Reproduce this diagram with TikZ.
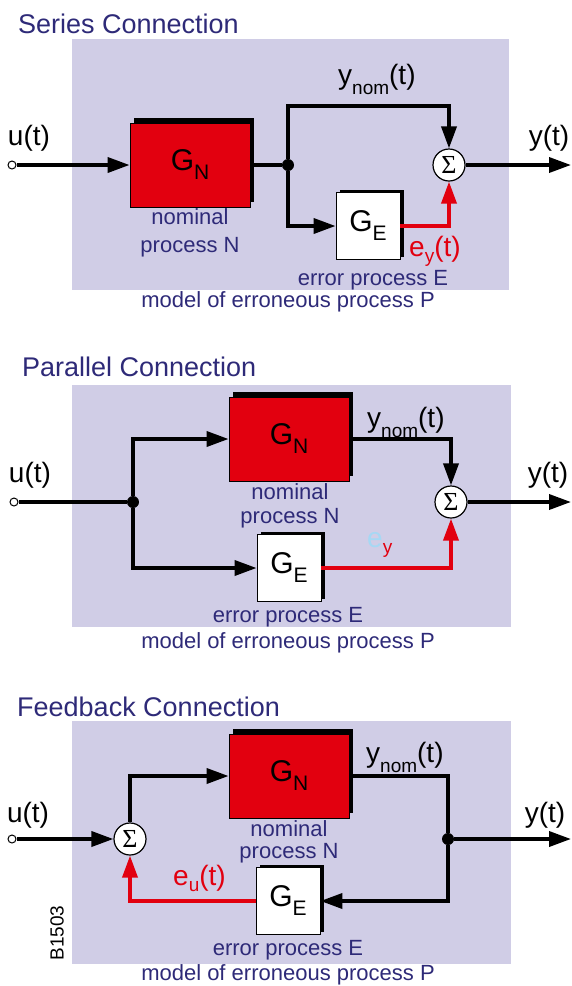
\documentclass[tikz,border=0pt]{standalone}
\usepackage{fontspec}
\setmainfont{Liberation Sans}
\newfontfamily\sigmafont{Liberation Serif}
\usetikzlibrary{arrows.meta,shadows}
\definecolor{bgcol}{RGB}{208,205,230}
\definecolor{txtblue}{RGB}{46,42,120}
\definecolor{errred}{RGB}{226,0,15}
\definecolor{eblue}{RGB}{166,216,244}
\newcommand{\gsub}[1]{G\raisebox{-0.3em}{\fontsize{21}{21}\selectfont #1}}
\newcommand{\ssub}[3][0.38em]{#2\raisebox{-#1}{\fontsize{19}{19}\selectfont #3}}

\begin{document}
\begin{tikzpicture}[x=1pt,y=-1pt,
    gnode/.style={draw, fill=errred, line width=0.8pt, minimum width=120pt, minimum height=84pt, inner sep=0pt,
      font=\fontsize{30}{30}\selectfont, drop shadow={fill=black, opacity=1, shadow xshift=4pt, shadow yshift=5pt}},
    enode/.style={draw, fill=white, line width=0.8pt, minimum width=64pt, minimum height=67pt, inner sep=0pt,
      font=\fontsize{30}{30}\selectfont, drop shadow={fill=black, opacity=1, shadow xshift=3.5pt, shadow yshift=3pt}},
    snode/.style={draw, circle, fill=white, line width=1.2pt, minimum size=32pt, inner sep=0pt, font=\sigmafont\fontsize{26}{26}\selectfont},
    jnode/.style={circle, fill=black, minimum size=12pt, inner sep=0pt},
    pnode/.style={circle, draw, fill=white, line width=1pt, minimum size=8pt, inner sep=0pt},
    conn/.style={line width=3.6pt},
    sig/.style={conn, -{Triangle[length=22pt,width=15pt]}},
    errsig/.style={sig, color=errred},
    ttl/.style={font=\fontsize{27}{27}\selectfont, text=txtblue, anchor=base west, inner sep=0pt},
    sigl/.style={font=\fontsize{28}{28}\selectfont, anchor=base, inner sep=0pt},
    lbl/.style={font=\fontsize{22}{24}\selectfont, text=txtblue, align=center, anchor=base, inner sep=0pt}
]
\useasboundingbox (0,0) rectangle (571,986);

% series connection
\fill[bgcol] (72,39) rectangle (509,290);
\node[ttl] (t1) at (18,33) {Series Connection};
\node[pnode] (u1) at (12,165) {};
\node[gnode] (gn1) at (190,165) {\gsub{N}};
\node[jnode] (j1) at (288,165) {};
\node[enode] (ge1) at (368,226) {\gsub{E}};
\node[snode] (s1) at (449,165) {Σ};
\coordinate (top1) at (449,106);
\coordinate (y1) at (571,165);
\draw[sig] (u1) -- (gn1);
\draw[conn] (gn1) -- (j1);
\draw[sig] (j1) |- (top1) -- (s1);
\draw[sig] (j1) |- (ge1);
\draw[errsig] (ge1) -| (s1);
\draw[sig] (s1) -- (y1);
\node[sigl] (ul1) at (29,145) {u(t)};
\node[sigl] (yl1) at (549,145) {y(t)};
\node[sigl, anchor=base west] (yn1) at (338,84) {\ssub{y}{nom}(t)};
\node[sigl, anchor=base west, text=errred] (ey1) at (409,256) {\ssub[0.22em]{e}{y}(t)};
\node[lbl] (nl1) at (190,252) {nominal\\[4pt]process N};
\node[lbl] (el1) at (373,285) {error process E};
\node[lbl] (ml1) at (288,307) {model of erroneous process P};

% parallel connection
\fill[bgcol] (72,385) rectangle (511,627);
\node[ttl] (t2) at (22,376) {Parallel Connection};
\node[pnode] (u2) at (14,502) {};
\node[jnode] (j2) at (133,502) {};
\node[gnode] (gn2) at (289,439) {\gsub{N}};
\node[enode] (ge2) at (289,568) {\gsub{E}};
\node[snode] (s2) at (451,502) {Σ};
\coordinate (y2) at (571,502);
\draw[conn] (u2) -- (j2);
\draw[sig] (j2) |- (gn2);
\draw[sig] (j2) |- (ge2);
\draw[sig] (gn2) -| (s2);
\draw[errsig] (ge2) -| (s2);
\draw[sig] (s2) -- (y2);
\node[sigl] (ul2) at (30,482) {u(t)};
\node[sigl] (yl2) at (548,482) {y(t)};
\node[sigl, anchor=base west] (yn2) at (367,427) {\ssub{y}{nom}(t)};
\node[sigl, anchor=base west] (ey2) at (367,547) {\ssub[0.22em]{\textcolor{eblue}{e}}{\textcolor{errred}{y}}};
\node[lbl] (nl2) at (290,523) {nominal\\process N};
\node[lbl] (el2) at (288,622) {error process E};
\node[lbl] (ml2) at (288,648) {model of erroneous process P};

% feedback connection
\fill[bgcol] (72,721) rectangle (511,964);
\node[ttl] (t3) at (17,716) {Feedback Connection};
\node[pnode] (u3) at (12,839) {};
\node[snode] (s3) at (130,839) {Σ};
\node[gnode] (gn3) at (289,776) {\gsub{N}};
\node[jnode] (j3) at (448,839) {};
\node[enode] (ge3) at (288,901) {\gsub{E}};
\coordinate (y3) at (571,839);
\draw[sig] (u3) -- (s3);
\draw[sig] (s3) |- (gn3);
\draw[conn] (gn3) -| (j3);
\draw[sig] (j3) -- (y3);
\draw[sig] (j3) |- (ge3);
\draw[errsig] (ge3) -| (s3);
\node[sigl] (ul3) at (28,822) {u(t)};
\node[sigl] (yl3) at (545,822) {y(t)};
\node[sigl, anchor=base west] (yn3) at (366,762) {\ssub{y}{nom}(t)};
\node[sigl, anchor=base west, text=errred] (eu3) at (173,885) {\ssub[0.22em]{e}{u}(t)};
\node[lbl] (nl3) at (289,858) {nominal\\[-2pt]process N};
\node[lbl] (el3) at (288,955) {error process E};
\node[lbl] (ml3) at (288,980) {model of erroneous process P};
\node[font=\fontsize{19}{19}\selectfont, rotate=90, inner sep=0pt] (code) at (57,933) {B1503};
\end{tikzpicture}
\end{document}
